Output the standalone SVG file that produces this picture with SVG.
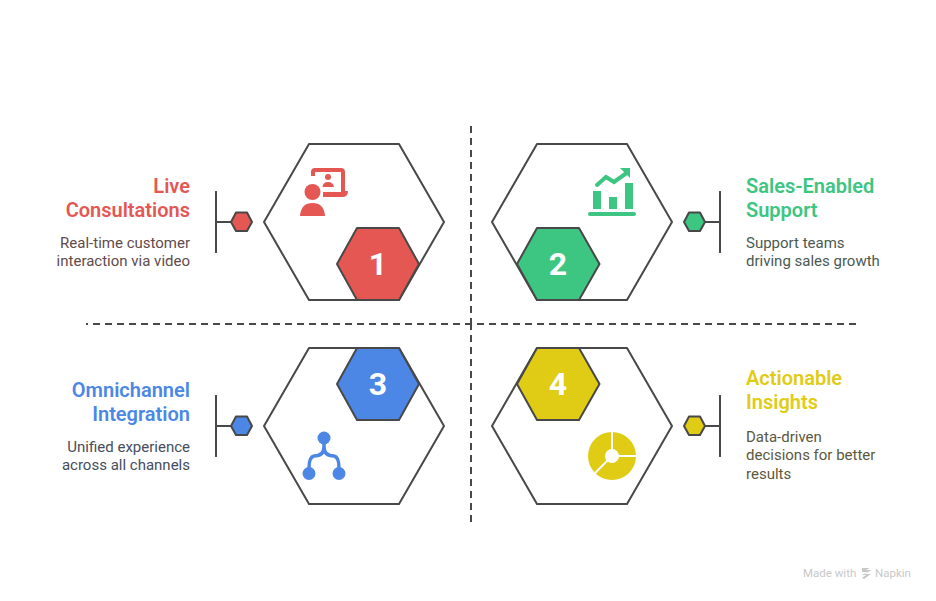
<svg xmlns="http://www.w3.org/2000/svg" width="936" height="601" viewBox="0 0 936 601">
<style>
text{font-family:Roboto,"Liberation Sans",sans-serif}
.h{fill:#fff;stroke:#484848;stroke-width:2;stroke-linejoin:round}
.b{stroke:#484848;stroke-width:2;stroke-linejoin:round}
.l{fill:none;stroke:#484848;stroke-width:2}
.d{fill:none;stroke:#484848;stroke-width:2;stroke-dasharray:7 5}
.t{font-size:20px;font-weight:600}
.s{font-size:15px}
.n{font-size:32px;font-weight:700;fill:#fff;text-anchor:middle}
.e{text-anchor:end}
.r{fill:#e55753}.g{fill:#3dc582}.u{fill:#4c87e6}.y{fill:#e0cb15}
</style>
<g id="connectors">
<path class="d" d="M471 126V324"/>
<path class="d" d="M471 522V324"/>
<path class="d" d="M856 324H86"/>
<path class="l" d="M216 191V253M216 222H231"/>
<path class="l" d="M720 191V253M705 222H720"/>
<path class="l" d="M216 395V457M216 426H231"/>
<path class="l" d="M720 395V457M705 426H720"/>
</g>
<g id="node1">
<path class="h" d="M264 222L309 144H399L444 222L399 300H309Z"/>
<path class="b r" d="M337 264L357 228H399L419 264L399 300H357Z"/>
<text class="n" x="378" y="275">1</text>
<path class="r" d="M311 176V172Q311 168 315 168H341Q345 168 345 172V191H348Q348 197 342 197H323V192H341V172H315V176Z"/>
<circle class="r" cx="328" cy="177" r="3"/>
<path class="r" d="M322.500 187Q323 182 328 182Q333 182 334 187Z"/>
<circle class="r" cx="312.500" cy="192" r="8"/>
<path class="r" d="M300 216Q301 203 312.500 203Q324 203 325 216Z"/>
<path class="b r" d="M231 222L236 212.500H247L252 222L247 231H236Z"/>
<text class="t r e" x="190" y="192.500">Live</text>
<text class="t r e" x="190" y="216.500">Consultations</text>
<text class="s e" fill="#5f4b49" x="190" y="247.500">Real-time customer</text>
<text class="s e" fill="#5f4b49" x="190" y="266">interaction via video</text>
</g>
<g id="node2">
<path class="h" d="M492 222L537 144H627L672 222L627 300H537Z"/>
<path class="b g" d="M517 264L537 228H579L599.500 264L579 300H537Z"/>
<text class="n" x="558" y="275">2</text>
<path class="g" d="M593 191H601V209H593ZM609 197H617V209H609ZM625 183H633V209H625Z"/>
<rect class="g" x="588" y="212" width="48" height="4" rx="2"/>
<path fill="none" stroke="#3dc582" stroke-width="4" stroke-linecap="round" d="M597 185L606 177L614 182L628 172"/>
<path class="g" d="M620 168H630V178Z"/>
<path class="b g" d="M684 222L689 212.500H700L705 222L700 231H689Z"/>
<text class="t g" x="746" y="192.500">Sales-Enabled</text>
<text class="t g" x="746" y="216.500">Support</text>
<text class="s" fill="#4a5a52" x="746" y="248">Support teams</text>
<text class="s" fill="#4a5a52" x="746" y="266">driving sales growth</text>
</g>
<g id="node3">
<path class="h" d="M264 426L309 348H399L444 426L399 504H309Z"/>
<path class="b u" d="M337 384L357 348H399L419 384L399 420H357Z"/>
<text class="n" x="378" y="395">3</text>
<circle class="u" cx="324" cy="438" r="6.500"/>
<circle class="u" cx="309" cy="473.500" r="6.500"/>
<circle class="u" cx="339" cy="473.500" r="6.500"/>
<path fill="none" stroke="#4c87e6" stroke-width="3.500" d="M324 440V447Q324 456 314 456Q309 457 309 468M324 447Q324 456 334 456Q339 457 339 468"/>
<path class="b u" d="M231 426L236 416.500H247L252 426L247 435H236Z"/>
<text class="t u e" x="190" y="396.500">Omnichannel</text>
<text class="t u e" x="190" y="420.500">Integration</text>
<text class="s e" fill="#454d5c" x="190" y="452">Unified experience</text>
<text class="s e" fill="#454d5c" x="190" y="470">across all channels</text>
</g>
<g id="node4">
<path class="h" d="M492 426L537 348H627L672 426L627 504H537Z"/>
<path class="b y" d="M517 384L537 348H579L599.500 384L579 420H537Z"/>
<text class="n" x="558" y="395">4</text>
<circle class="y" cx="612" cy="456" r="24"/>
<path fill="none" stroke="#fff" stroke-width="2" d="M612 431V456H637M612 456L595 473"/>
<circle cx="612" cy="456" r="7" fill="#fff"/>
<path class="b y" d="M684 426L689 416.500H700L705 426L700 435H689Z"/>
<text class="t y" x="746" y="384.500">Actionable</text>
<text class="t y" x="746" y="408.500">Insights</text>
<text class="s" fill="#5c5840" x="746" y="442">Data-driven</text>
<text class="s" fill="#5c5840" x="746" y="460">decisions for better</text>
<text class="s" fill="#5c5840" x="746" y="479">results</text>
</g>
<g id="watermark" fill="#c8c8c8">
<text x="803" y="577" font-size="11.500">Made with</text>
<path d="M862 568H870L866 570H872L864 574H871L864 579L862 578L866 575H862L867 572H862Z"/>
<text x="875" y="577" font-size="11.500">Napkin</text>
</g>
</svg>
